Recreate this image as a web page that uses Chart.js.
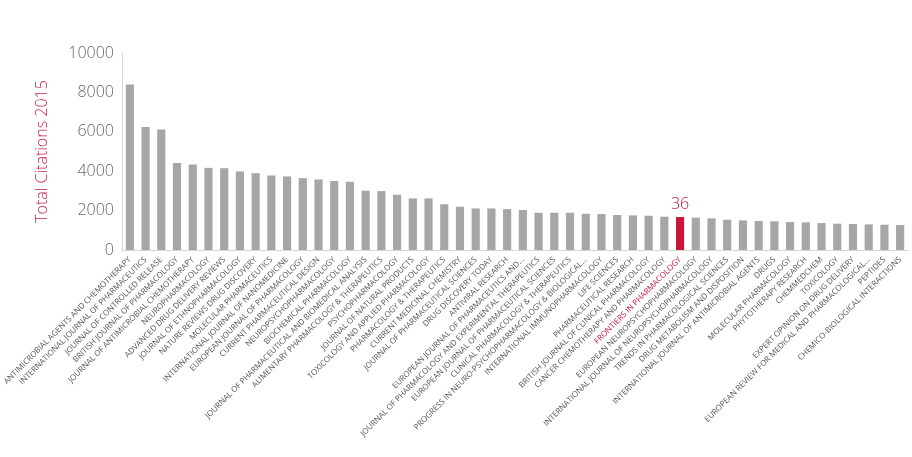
<!DOCTYPE html>
<html>
<head>
<meta charset="utf-8">
<script src="https://cdn.jsdelivr.net/npm/chart.js@4"></script>
<style>
  html, body { margin: 0; padding: 0; background: #fff; }
  #wrap { width: 912px; height: 457px; }
</style>
</head>
<body>
<div id="wrap"><canvas id="myChart" width="912" height="457"></canvas></div>
<script>
const journals = [
    'ANTIMICROBIAL AGENTS AND CHEMOTHERAPY',
    'INTERNATIONAL JOURNAL OF PHARMACEUTICS',
    'JOURNAL OF CONTROLLED RELEASE',
    'BRITISH JOURNAL OF PHARMACOLOGY',
    'JOURNAL OF ANTIMICROBIAL CHEMOTHERAPY',
    'NEUROPHARMACOLOGY',
    'ADVANCED DRUG DELIVERY REVIEWS',
    'JOURNAL OF ETHNOPHARMACOLOGY',
    'NATURE REVIEWS DRUG DISCOVERY',
    'MOLECULAR PHARMACEUTICS',
    'INTERNATIONAL JOURNAL OF NANOMEDICINE',
    'EUROPEAN JOURNAL OF PHARMACOLOGY',
    'CURRENT PHARMACEUTICAL DESIGN',
    'NEUROPSYCHOPHARMACOLOGY',
    'BIOCHEMICAL PHARMACOLOGY',
    'JOURNAL OF PHARMACEUTICAL AND BIOMEDICAL ANALYSIS',
    'ALIMENTARY PHARMACOLOGY & THERAPEUTICS',
    'PSYCHOPHARMACOLOGY',
    'JOURNAL OF NATURAL PRODUCTS',
    'TOXICOLOGY AND APPLIED PHARMACOLOGY',
    'PHARMACOLOGY & THERAPEUTICS',
    'CURRENT MEDICINAL CHEMISTRY',
    'JOURNAL OF PHARMACEUTICAL SCIENCES',
    'DRUG DISCOVERY TODAY',
    'ANTIVIRAL RESEARCH',
    'EUROPEAN JOURNAL OF PHARMACEUTICS AND...',
    'JOURNAL OF PHARMACOLOGY AND EXPERIMENTAL THERAPEUTICS',
    'EUROPEAN JOURNAL OF PHARMACEUTICAL SCIENCES',
    'CLINICAL PHARMACOLOGY & THERAPEUTICS',
    'PROGRESS IN NEURO-PSYCHOPHARMACOLOGY & BIOLOGICAL...',
    'INTERNATIONAL IMMUNOPHARMACOLOGY',
    'LIFE SCIENCES',
    'PHARMACEUTICAL RESEARCH',
    'BRITISH JOURNAL OF CLINICAL PHARMACOLOGY',
    'CANCER CHEMOTHERAPY AND PHARMACOLOGY',
    'FRONTIERS IN PHARMACOLOGY',
    'EUROPEAN NEUROPSYCHOPHARMACOLOGY',
    'INTERNATIONAL JOURNAL OF NEUROPSYCHOPHARMACOLOGY',
    'TRENDS IN PHARMACOLOGICAL SCIENCES',
    'DRUG METABOLISM AND DISPOSITION',
    'INTERNATIONAL JOURNAL OF ANTIMICROBIAL AGENTS',
    'DRUGS',
    'MOLECULAR PHARMACOLOGY',
    'PHYTOTHERAPY RESEARCH',
    'CHEMMEDCHEM',
    'TOXICOLOGY',
    'EXPERT OPINION ON DRUG DELIVERY',
    'EUROPEAN REVIEW FOR MEDICAL AND PHARMACOLOGICAL...',
    'PEPTIDES',
    'CHEMICO-BIOLOGICAL INTERACTIONS'
];

const citations = [
    8400, 6250, 6115, 4410, 4340, 4170, 4155, 3990, 3900, 3785,
    3735, 3650, 3580, 3500, 3465, 3010, 2990, 2805, 2620, 2620,
    2320, 2195, 2110, 2110, 2075, 2030, 1890, 1890, 1890, 1840,
    1825, 1775, 1757, 1740, 1690, 1673, 1640, 1605, 1537, 1503,
    1470, 1453, 1420, 1402, 1368, 1335, 1318, 1300, 1284, 1267
];

const yTicks = [0, 2000, 4000, 6000, 8000, 10000];

const highlight = 'FRONTIERS IN PHARMACOLOGY';
const highlightRank = '36';

const grey = '#a6a6a6';
const red = '#c8173a';
const hi = journals.indexOf(highlight);

// writes the rank above the highlighted bar
const rankLabel = {
    id: 'rankLabel',
    afterDatasetsDraw(chart) {
        const bar = chart.getDatasetMeta(0).data[hi];
        if (!bar) return;
        const c = chart.ctx;
        c.save();
        c.font = '300 16px "Open Sans"';
        c.fillStyle = red;
        c.textAlign = 'center';
        c.textBaseline = 'bottom';
        c.fillText(highlightRank, bar.x, bar.y - 5);
        c.restore();
    }
};

const ctx = document.getElementById('myChart');

new Chart(ctx, {
    type: 'bar',
    data: {
        labels: journals,
        datasets: [{
            data: citations,
            backgroundColor: journals.map((j, i) => i === hi ? red : grey),
            borderWidth: 0,
            barPercentage: 0.52,
            categoryPercentage: 1
        }]
    },
    options: {
        responsive: false,
        animation: false,
        layout: { padding: { top: 53, right: 4, left: 0, bottom: 0 } },
        plugins: {
            legend: { display: false },
            tooltip: { enabled: false }
        },
        scales: {
            x: {
                grid: { display: false, drawTicks: false },
                border: { display: true, color: '#d6d6d6', width: 1 },
                ticks: {
                    autoSkip: false,
                    maxRotation: 45,
                    minRotation: 45,
                    padding: 5,
                    color: (c) => c.index === hi ? red : '#555555',
                    font: { family: 'Open Sans', size: 8, weight: 400 }
                },
                afterFit(scale) {
                    scale.height = 207;
                    scale.paddingLeft = 0;
                    scale.paddingRight = 0;
                }
            },
            y: {
                min: 0,
                max: 10000,
                afterBuildTicks(scale) {
                    scale.ticks = yTicks.map(v => ({ value: v }));
                },
                grid: { display: false, drawTicks: false },
                border: { display: true, color: '#d6d6d6', width: 1 },
                ticks: {
                    padding: 8,
                    color: '#666666',
                    callback: (v) => String(v),
                    font: { family: 'Open Sans', size: 16, weight: 300 }
                },
                title: {
                    display: true,
                    text: 'Total Citations 2015',
                    color: '#c0284a',
                    padding: { top: 33, bottom: 0 },
                    font: { family: 'Open Sans', size: 16, weight: 300 }
                },
                afterFit(scale) {
                    scale.width = 122;
                }
            }
        }
    },
    plugins: [rankLabel]
});
</script>
</body>
</html>
